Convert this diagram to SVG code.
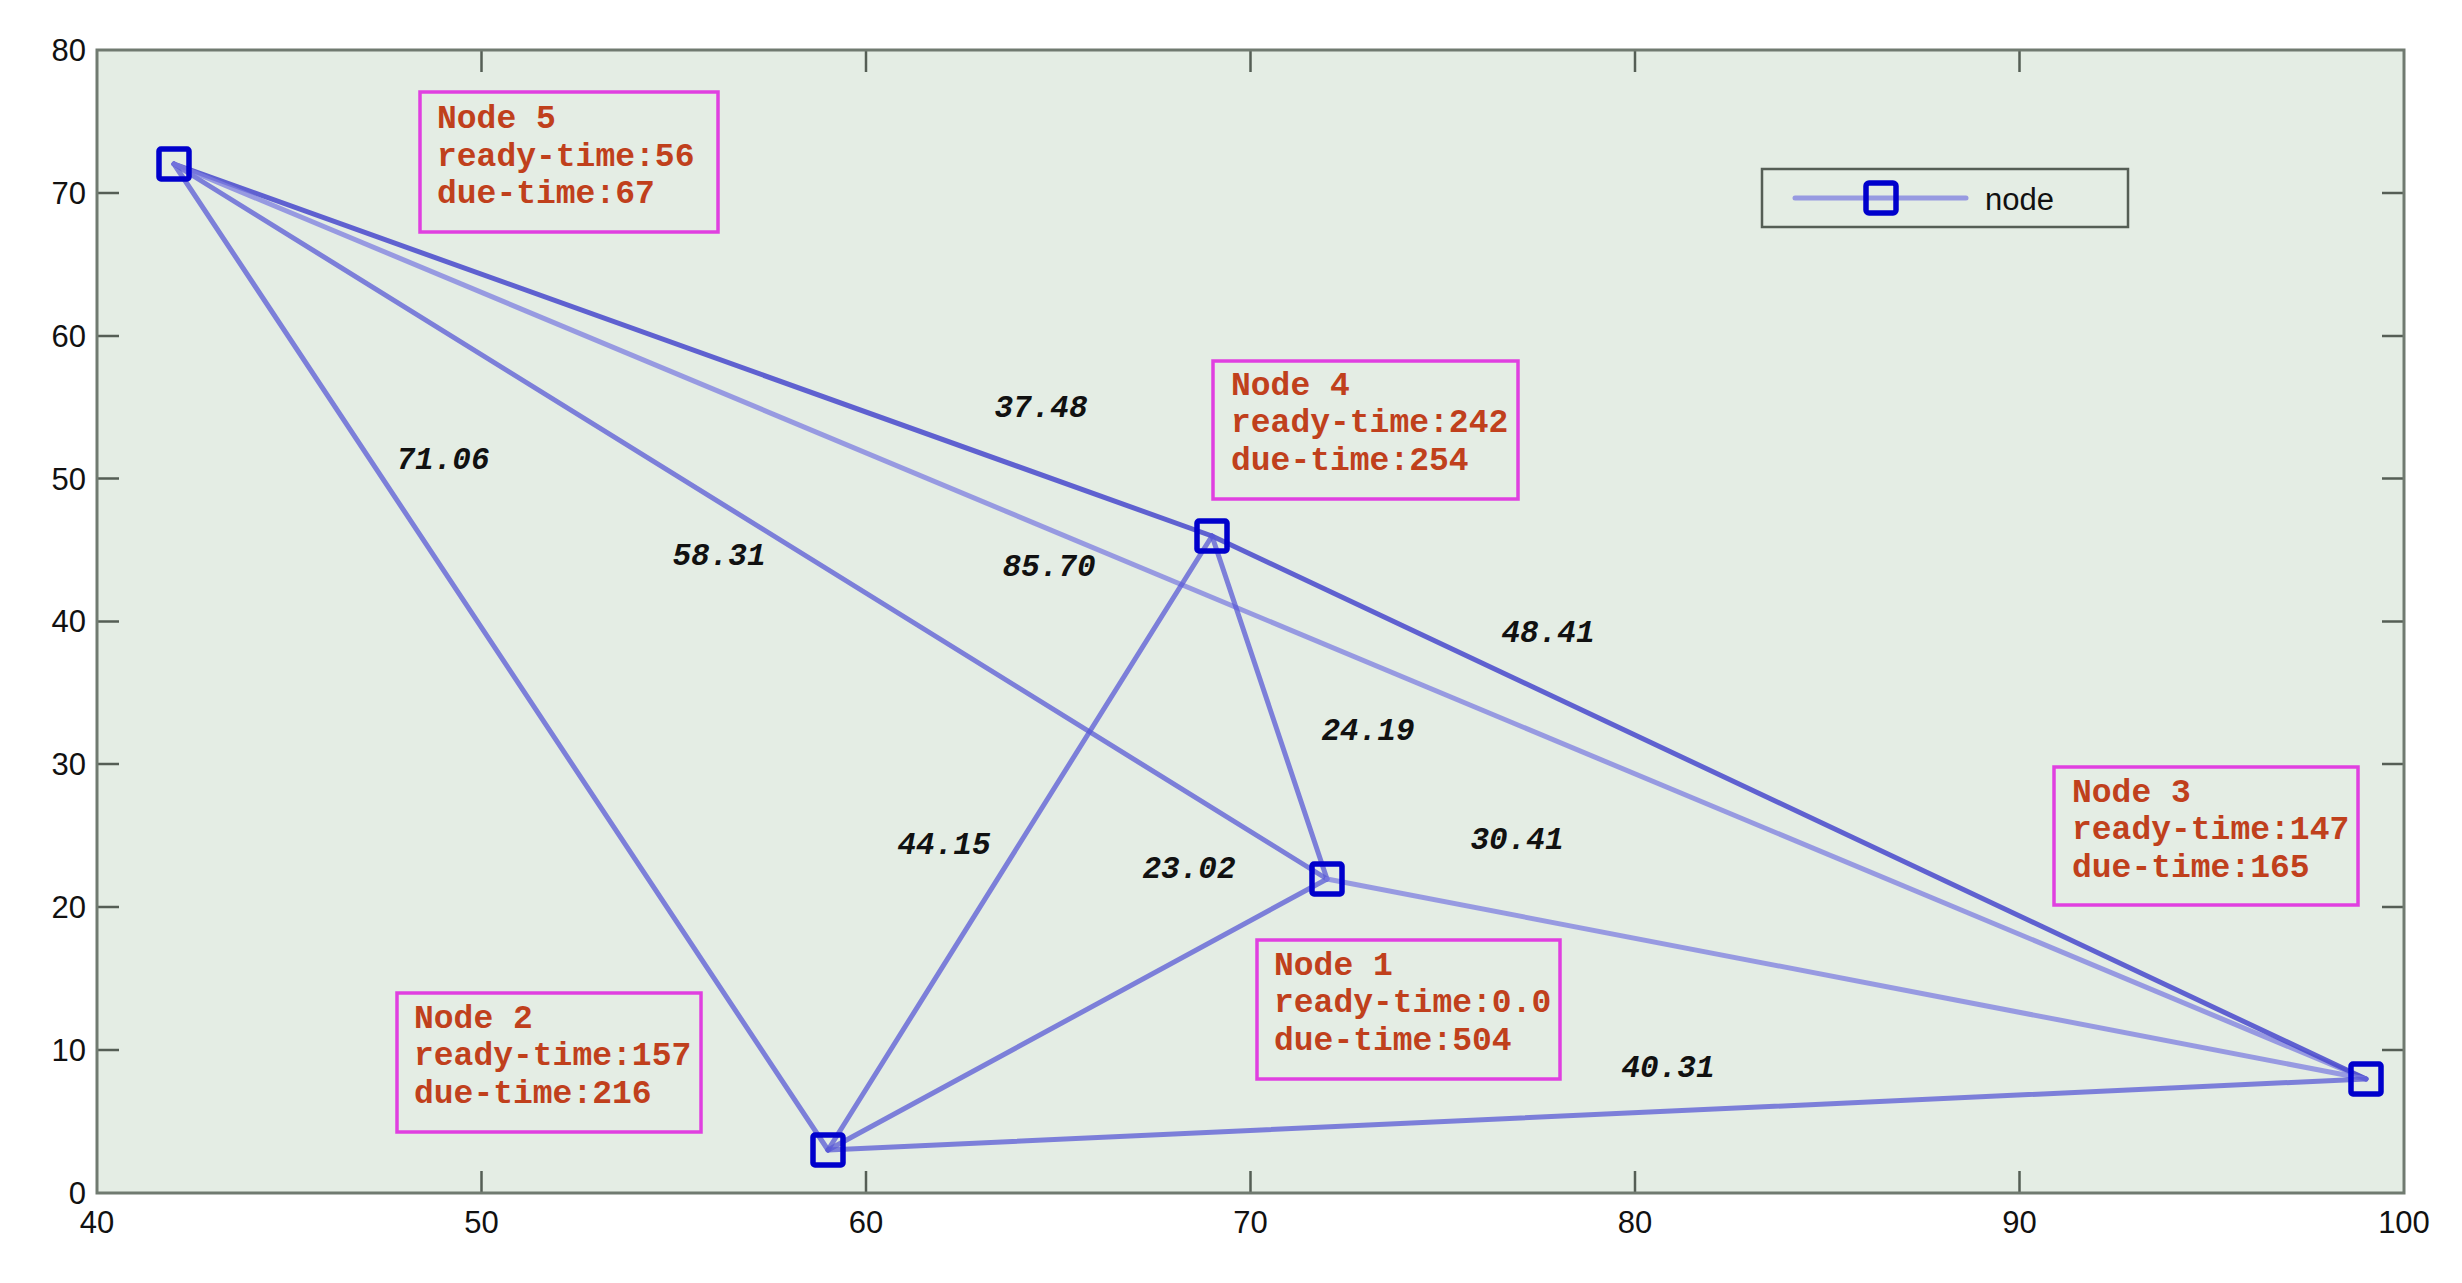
<svg xmlns="http://www.w3.org/2000/svg" width="2462" height="1283" viewBox="0 0 2462 1283">
<style>
.ax{font-family:"Liberation Sans",Arial,sans-serif;font-size:31px;fill:#111}
.tk{stroke:#555e55;stroke-width:2.5}
.e{stroke:#5a5ad6;stroke-width:5;stroke-opacity:0.75;fill:none;stroke-linecap:round}
.el{stroke:#7e7ee0;stroke-opacity:0.75}
.ed{stroke:#4848cc;stroke-opacity:0.85}
.lbl{font-family:"Liberation Mono","Courier New",monospace;font-size:31px;font-weight:bold;font-style:italic;fill:#111;text-anchor:middle}
.box{fill:none;stroke:#e040e0;stroke-width:3.5}
.bt{font-family:"Liberation Mono","Courier New",monospace;font-size:33px;font-weight:bold;fill:#c0401c}
.mk{fill:none;stroke:#0000cc;stroke-width:5.5}
</style>
<rect x="0" y="0" width="2462" height="1283" fill="#ffffff"/>
<rect x="97" y="50" width="2307" height="1143" fill="#e4ede4"/>
<g id="axes">
<g class="tk">
<line x1="481.5" y1="1193" x2="481.5" y2="1171"/><line x1="866" y1="1193" x2="866" y2="1171"/><line x1="1250.5" y1="1193" x2="1250.5" y2="1171"/><line x1="1635" y1="1193" x2="1635" y2="1171"/><line x1="2019.5" y1="1193" x2="2019.5" y2="1171"/>
<line x1="481.5" y1="50" x2="481.5" y2="72"/><line x1="866" y1="50" x2="866" y2="72"/><line x1="1250.5" y1="50" x2="1250.5" y2="72"/><line x1="1635" y1="50" x2="1635" y2="72"/><line x1="2019.5" y1="50" x2="2019.5" y2="72"/>
<line x1="97" y1="1050" x2="119" y2="1050"/><line x1="97" y1="907" x2="119" y2="907"/><line x1="97" y1="764" x2="119" y2="764"/><line x1="97" y1="621.5" x2="119" y2="621.5"/><line x1="97" y1="478.5" x2="119" y2="478.5"/><line x1="97" y1="336" x2="119" y2="336"/><line x1="97" y1="193" x2="119" y2="193"/>
<line x1="2404" y1="1050" x2="2382" y2="1050"/><line x1="2404" y1="907" x2="2382" y2="907"/><line x1="2404" y1="764" x2="2382" y2="764"/><line x1="2404" y1="621.5" x2="2382" y2="621.5"/><line x1="2404" y1="478.5" x2="2382" y2="478.5"/><line x1="2404" y1="336" x2="2382" y2="336"/><line x1="2404" y1="193" x2="2382" y2="193"/>
</g>
<rect x="97" y="50" width="2307" height="1143" fill="none" stroke="#707a70" stroke-width="3"/>
<g class="ax" text-anchor="end">
<text x="86" y="1204">0</text><text x="86" y="1061">10</text><text x="86" y="918">20</text><text x="86" y="775">30</text><text x="86" y="632">40</text><text x="86" y="490">50</text><text x="86" y="347">60</text><text x="86" y="204">70</text><text x="86" y="61">80</text>
</g>
<g class="ax" text-anchor="middle">
<text x="97" y="1233">40</text><text x="481.5" y="1233">50</text><text x="866" y="1233">60</text><text x="1250.5" y="1233">70</text><text x="1635" y="1233">80</text><text x="2019.5" y="1233">90</text><text x="2404" y="1233">100</text>
</g>
</g>
<g id="connectors">
<line class="e" x1="174" y1="164" x2="828" y2="1150"/>
<line class="e" x1="174" y1="164" x2="1327" y2="879"/>
<line class="e ed" x1="174" y1="164" x2="1212" y2="536"/>
<line class="e el" x1="174" y1="164" x2="2366" y2="1079"/>
<line class="e ed" x1="1212" y1="536" x2="2366" y2="1079"/>
<line class="e" x1="1212" y1="536" x2="828" y2="1150"/>
<line class="e" x1="1212" y1="536" x2="1327" y2="879"/>
<line class="e" x1="828" y1="1150" x2="1327" y2="879"/>
<line class="e el" x1="1327" y1="879" x2="2366" y2="1079"/>
<line class="e" x1="828" y1="1150" x2="2366" y2="1079"/>
</g>
<g id="edge-labels">
<text class="lbl" x="1041" y="417">37.48</text>
<text class="lbl" x="443" y="469">71.06</text>
<text class="lbl" x="719" y="565">58.31</text>
<text class="lbl" x="1049" y="576">85.70</text>
<text class="lbl" x="1548" y="642">48.41</text>
<text class="lbl" x="1368" y="740">24.19</text>
<text class="lbl" x="1517" y="849">30.41</text>
<text class="lbl" x="944" y="854">44.15</text>
<text class="lbl" x="1189" y="878">23.02</text>
<text class="lbl" x="1668" y="1077">40.31</text>
</g>
<g id="node1">
<rect class="mk" x="1312" y="864" width="30" height="30" rx="2"/>
<rect class="box" x="1257" y="940" width="303" height="139"/>
<text class="bt" x="1274" y="975">Node 1</text>
<text class="bt" x="1274" y="1012">ready-time:0.0</text>
<text class="bt" x="1274" y="1050">due-time:504</text>
</g>
<g id="node2">
<rect class="mk" x="813" y="1135" width="30" height="30" rx="2"/>
<rect class="box" x="397" y="993" width="304" height="139"/>
<text class="bt" x="414" y="1028">Node 2</text>
<text class="bt" x="414" y="1065">ready-time:157</text>
<text class="bt" x="414" y="1103">due-time:216</text>
</g>
<g id="node3">
<rect class="mk" x="2351" y="1064" width="30" height="30" rx="2"/>
<rect class="box" x="2054" y="767" width="304" height="138"/>
<text class="bt" x="2072" y="802">Node 3</text>
<text class="bt" x="2072" y="839">ready-time:147</text>
<text class="bt" x="2072" y="877">due-time:165</text>
</g>
<g id="node4">
<rect class="mk" x="1197" y="521" width="30" height="30" rx="2"/>
<rect class="box" x="1213" y="361" width="305" height="138"/>
<text class="bt" x="1231" y="395">Node 4</text>
<text class="bt" x="1231" y="432">ready-time:242</text>
<text class="bt" x="1231" y="470">due-time:254</text>
</g>
<g id="node5">
<rect class="mk" x="159" y="149" width="30" height="30" rx="2"/>
<rect class="box" x="420" y="92" width="298" height="140"/>
<text class="bt" x="437" y="128">Node 5</text>
<text class="bt" x="437" y="166">ready-time:56</text>
<text class="bt" x="437" y="203">due-time:67</text>
</g>
<g id="legend">
<rect x="1762" y="169" width="366" height="58" fill="#e4ede4" stroke="#555e55" stroke-width="2.5"/>
<line class="e el" x1="1795" y1="198" x2="1966" y2="198"/>
<rect class="mk" x="1866" y="183" width="30" height="30" rx="3"/>
<text class="ax" x="1985" y="210">node</text>
</g>
</svg>
